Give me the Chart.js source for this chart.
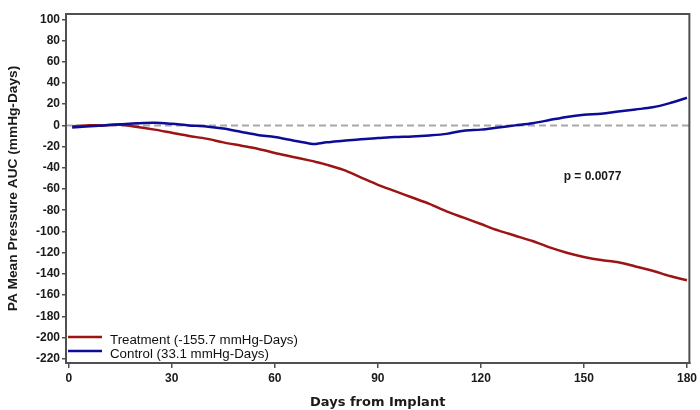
<!DOCTYPE html>
<html>
<head>
<meta charset="utf-8">
<script src="https://cdn.jsdelivr.net/npm/chart.js@4"></script>
<style>
  html, body { margin: 0; padding: 0; background: #fff; }
  #wrap { width: 700px; height: 410px; }
</style>
</head>
<body>
<div id="wrap"><canvas id="c" width="700" height="410"></canvas></div>
<script>
// ---- data ----
const days = [1, 5, 10, 15, 20, 25, 30, 35, 40, 45, 50, 55, 60, 65, 70, 72, 75, 80, 85, 90, 95, 100, 105, 110, 115, 120, 125, 130, 135, 140, 145, 150, 155, 160, 165, 170, 175, 180];
const treatmentValues = [-1, 0, 0, 0.5, -1.5, -4, -7, -10, -12.5, -16, -19, -22, -26, -29.5, -33, -34.5, -37, -42, -49, -56, -62, -68, -74, -81, -87, -93, -99, -104, -109, -115, -120, -124, -127, -129, -133, -137, -142, -146];
const controlValues = [-2, -1, 0, 1, 2, 2.5, 1.5, 0, -1, -3, -6, -9, -11, -14, -17, -17.5, -16, -14.5, -13, -12, -11, -10.5, -9.5, -8, -5, -4, -2, 0, 2, 5, 8, 10, 11, 13, 15, 17, 21, 26];
const seriesLabels = ["Treatment (-155.7 mmHg-Days)", "Control (33.1 mmHg-Days)"];
const xTickValues = [0, 30, 60, 90, 120, 150, 180];
const yTickValues = [-220, -200, -180, -160, -140, -120, -100, -80, -60, -40, -20, 0, 20, 40, 60, 80, 100];
const pValueText = "p = 0.0077";
const pValuePos = { x: 152.5, y: -48 };
const xAxisTitle = "Days from Implant";
const yAxisTitle = "PA Mean Pressure AUC (mmHg-Days)";

const RED = "#9c1414";
const BLUE = "#0c0c96";
const FRAME = "#505050";
const FONT = "Liberation Sans, Arial, sans-serif";
const WIDE = "DejaVu Sans, Verdana, sans-serif";

const toPts = (vals) => days.map((d, i) => ({ x: d, y: vals[i] }));

const framePlugin = {
  id: "frame",
  beforeDatasetsDraw(chart) {
    const { ctx, chartArea: a, scales } = chart;
    const y0 = scales.y.getPixelForValue(0);
    ctx.save();
    ctx.strokeStyle = "#a8a8a8";
    ctx.lineWidth = 2;
    ctx.setLineDash([7, 4]);
    ctx.beginPath();
    ctx.moveTo(a.left, y0);
    ctx.lineTo(a.right, y0);
    ctx.stroke();
    ctx.restore();
  },
  afterDatasetsDraw(chart) {
    const { ctx, chartArea: a, scales } = chart;
    ctx.save();
    // frame
    ctx.strokeStyle = FRAME;
    ctx.lineWidth = 2;
    ctx.strokeRect(a.left, a.top, a.right - a.left, a.bottom - a.top);
    // p-value
    ctx.fillStyle = "#1a1a1a";
    ctx.font = "bold 12px " + FONT;
    ctx.textAlign = "center";
    ctx.textBaseline = "middle";
    ctx.fillText(pValueText, scales.x.getPixelForValue(pValuePos.x), scales.y.getPixelForValue(pValuePos.y));
    // legend
    ctx.font = "13.3px " + FONT;
    ctx.textAlign = "left";
    chart.data.datasets.forEach((ds, i) => {
      const yy = a.bottom - 26 + i * 14;
      ctx.strokeStyle = ds.borderColor;
      ctx.lineWidth = 2.5;
      ctx.beginPath();
      ctx.moveTo(a.left + 2, yy);
      ctx.lineTo(a.left + 36, yy);
      ctx.stroke();
      ctx.fillStyle = "#111";
      ctx.fillText(ds.label, a.left + 44, yy + 3);
    });
    ctx.restore();
  }
};

new Chart(document.getElementById("c"), {
  type: "line",
  data: {
    datasets: [
      { label: seriesLabels[0], data: toPts(treatmentValues), borderColor: RED, borderWidth: 2.5, pointRadius: 0, tension: 0.3, fill: false, order: 2 },
      { label: seriesLabels[1], data: toPts(controlValues), borderColor: BLUE, borderWidth: 2.5, pointRadius: 0, tension: 0.3, fill: false, order: 1 }
    ]
  },
  options: {
    responsive: false,
    animation: false,
    devicePixelRatio: 1,
    layout: { padding: { top: 14, right: 7, left: 0, bottom: 0 } },
    plugins: { legend: { display: false }, tooltip: { enabled: false } },
    scales: {
      x: {
        type: "linear",
        min: -0.8,
        max: 180.7,
        afterBuildTicks: (s) => { s.ticks = xTickValues.map(v => ({ value: v })); },
        afterFit: (s) => { s.height = 47; },
        grid: { display: true, drawOnChartArea: false, drawTicks: true, tickLength: 5, color: FRAME, lineWidth: 1.5 },
        border: { display: true, color: FRAME, width: 2 },
        ticks: { color: "#1a1a1a", font: { family: FONT, size: 12, weight: "bold" }, padding: 3, maxRotation: 0 },
        title: { display: true, text: xAxisTitle, color: "#1a1a1a", font: { family: WIDE, size: 13, weight: "bold" }, padding: { top: -2, bottom: 0 } }
      },
      y: {
        type: "linear",
        min: -224,
        max: 105,
        afterBuildTicks: (s) => { s.ticks = yTickValues.map(v => ({ value: v })); },
        afterFit: (s) => { s.width = 66; },
        grid: { display: true, drawOnChartArea: false, drawTicks: true, tickLength: 4, color: FRAME, lineWidth: 1.5 },
        border: { display: true, color: FRAME, width: 2 },
        ticks: { color: "#1a1a1a", font: { family: FONT, size: 12, weight: "bold" }, padding: 2 },
        title: { display: true, text: yAxisTitle, color: "#1a1a1a", font: { family: FONT, size: 13.7, weight: "bold" }, padding: { top: 5, bottom: 0 } }
      }
    }
  },
  plugins: [framePlugin]
});
</script>
</body>
</html>
